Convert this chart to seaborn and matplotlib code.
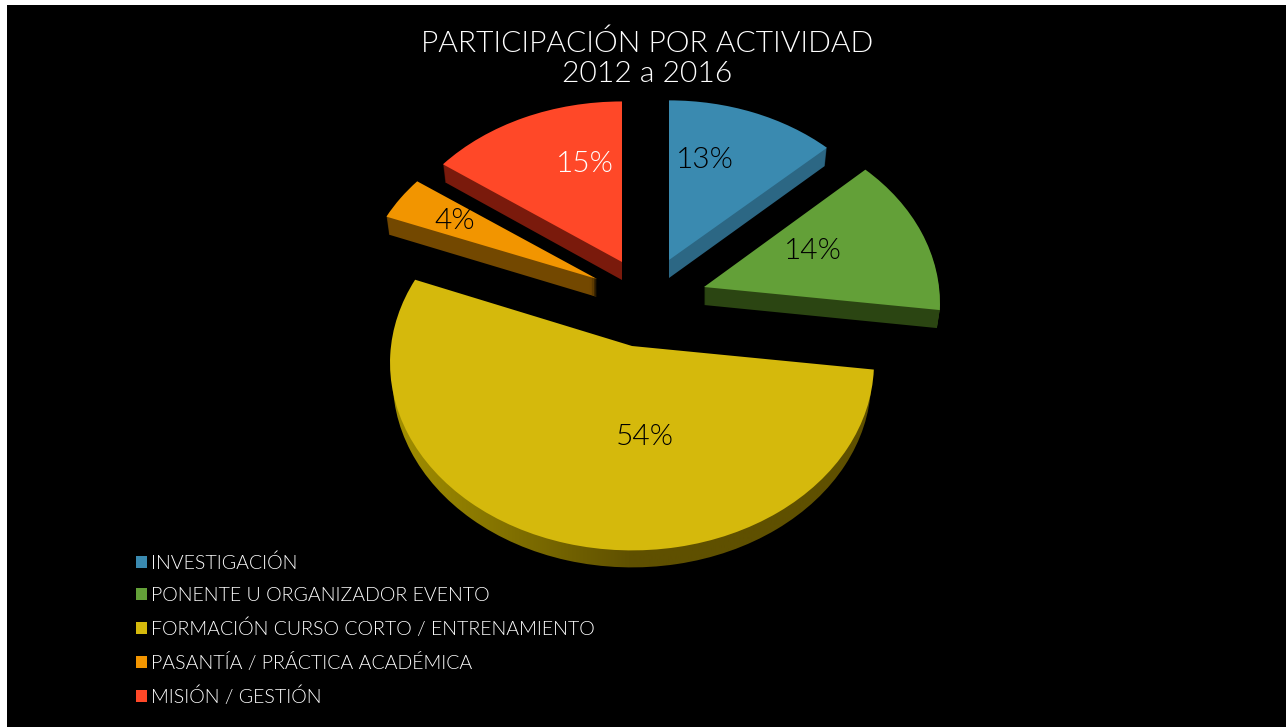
import numpy as np
import seaborn as sns
import matplotlib.pyplot as plt
from matplotlib.patches import Patch
from matplotlib.transforms import Affine2D, Transform

categories = ['INVESTIGACIÓN', 'PONENTE U ORGANIZADOR EVENTO',
              'FORMACIÓN CURSO CORTO / ENTRENAMIENTO',
              'PASANTÍA / PRÁCTICA ACADÉMICA', 'MISIÓN / GESTIÓN']
values = [13, 14, 54, 4, 15]

top_colors = ['#3a8ab0', '#63a038', '#d5b90c', '#f29500', '#ff4828']
wall_colors = ['#2c6784', '#2b4512', '#5f5000', '#734800', '#7a1a0c']
label_colors = ['black', 'black', 'black', 'black', 'white']

# per slice layout in picture pixels: apex x, apex y, radius x, radius y
apex_x = [669, 704, 632, 597, 622]
apex_y = [260, 287, 346, 279, 262]
radius_x = [230, 235, 241, 234, 233]
radius_y = [174, 182, 186, 175, 175]
label_x = [705, 813, 645, 455, 585]
label_y = [160, 251, 437, 221, 164]
DEPTH = 18
TILT = 0.09
YELLOW = 2

sns.set_theme(style='white')
plt.rcParams['font.family'] = ['Lato', 'DejaVu Sans']
plt.rcParams['font.weight'] = 300


class Tilt(Transform):
    # far side of the pie gets smaller, near side bigger
    input_dims = output_dims = 2

    def transform_non_affine(self, xy):
        xy = np.asarray(xy, dtype=float)
        return xy / (1 + TILT * xy[:, 1:2])


fig = plt.figure(figsize=(12.86, 7.27), dpi=100, facecolor='white')
ax = fig.add_axes([7 / 1286, 0, 1279 / 1286, 722 / 727], facecolor='black')


def slice_transform(i, drop=0):
    narrow = 1 - 0.012 * drop / DEPTH
    shape = Affine2D().scale(radius_x[i] * narrow, -radius_y[i]).translate(apex_x[i], apex_y[i] + drop)
    return Tilt() + shape + ax.transData


def draw_pie(colors, drop, zorder):
    wedges, _ = ax.pie(values, colors=colors, startangle=90, counterclock=False, frame=True)
    for i, w in enumerate(wedges):
        w.set_transform(slice_transform(i, drop))
        w.set_zorder(zorder)
        w.set_linewidth(0)
    return wedges


# side walls are the same pie repeated downwards
for drop in range(DEPTH, 0, -1):
    walls = draw_pie(sns.color_palette(wall_colors), drop, 1)
    walls[YELLOW].set_visible(False)

lower = draw_pie(sns.color_palette(wall_colors), DEPTH - 1, 1)
shade = sns.blend_palette(['#a39000', '#5f5000', '#5f5000'], as_cmap=True)
img = ax.imshow(np.linspace(0, 1, 256)[None, :], cmap=shade, aspect='auto',
                extent=[390, 875, 727, 5], zorder=1)
img.set_clip_path(lower[YELLOW])
for w in lower:
    w.set_visible(False)

draw_pie(sns.color_palette(top_colors), 0, 2)

for i, v in enumerate(values):
    ax.text(label_x[i], label_y[i], f'{v}%', color=label_colors[i], fontsize=21.5,
            ha='center', va='center', zorder=3)

ax.text(647, 58, 'PARTICIPACIÓN POR ACTIVIDAD\n2012 a 2016', color='white', fontsize=21.6,
        ha='center', va='center', linespacing=1.2, zorder=3)

handles = [Patch(facecolor=c, linewidth=0) for c in top_colors]
ax.legend(handles, categories, loc='lower left', bbox_to_anchor=(129 / 1279, 21 / 722),
          bbox_transform=ax.transAxes, frameon=False, fontsize=14.15, labelcolor='white',
          handlelength=0.57, handleheight=0.57, handletextpad=0.18, labelspacing=0.75,
          borderpad=0, borderaxespad=0)

ax.set_xlim(7, 1286)
ax.set_ylim(727, 5)
ax.set_aspect('auto')
ax.set(xticks=[], yticks=[])
ax.set_frame_on(True)
sns.despine(ax=ax, left=True, bottom=True)

fig.savefig('out.png', dpi=100, facecolor='white')
